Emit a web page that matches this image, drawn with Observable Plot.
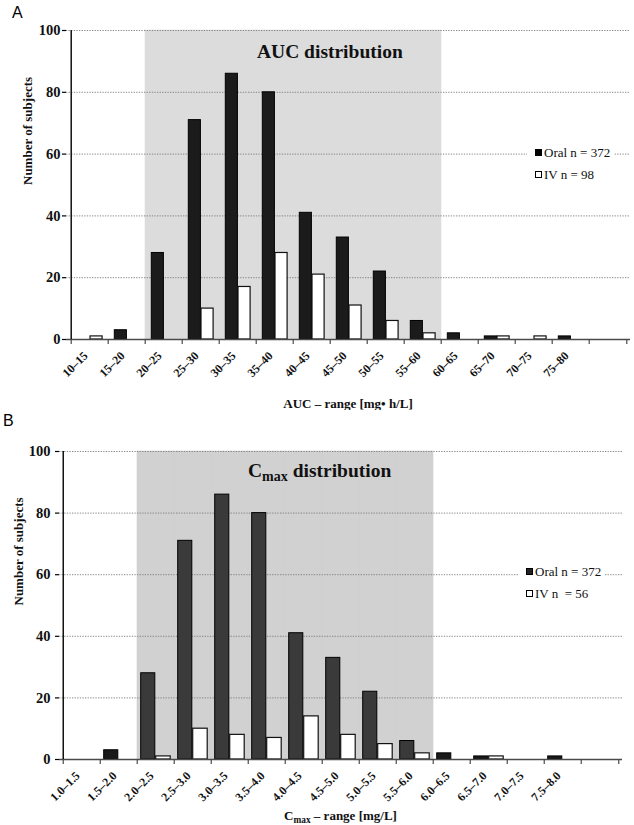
<!DOCTYPE html>
<html><head><meta charset="utf-8">
<script src="https://cdn.jsdelivr.net/npm/d3@7"></script>
<script src="https://cdn.jsdelivr.net/npm/@observablehq/plot@0.6"></script>
<style>
body{margin:0;background:#fff;}
.panel{position:relative;width:634px;overflow:hidden;}
.plbl{position:absolute;font-family:"Liberation Sans",Arial,sans-serif;font-size:16px;line-height:1;}
.title{position:absolute;font-family:"Liberation Serif","Times New Roman",serif;font-weight:bold;font-size:19.5px;white-space:nowrap;line-height:1;color:#111;}
.xt{position:absolute;font-family:"Liberation Serif","Times New Roman",serif;font-weight:bold;font-size:13px;white-space:nowrap;transform:translateX(-50%);line-height:1;color:#111;}
.sub{font-size:0.72em;position:relative;top:0.3em;}
.legend{position:absolute;background:#fff;font-family:"Liberation Serif","Times New Roman",serif;font-size:13px;line-height:22px;padding:0 4px 0 8px;white-space:pre;color:#111;}
.sw{display:inline-block;width:5px;height:5px;border:1px solid #000;margin-right:2px;vertical-align:1px;}
</style></head>
<body>
<div id="A" class="panel"></div>
<div id="B" class="panel"></div>
<script>
// ---- data ----
const aucBins = ["10–15","15–20","20–25","25–30","30–35","35–40","40–45","45–50","50–55","55–60","60–65","65–70","70–75","75–80"];
const aucOral = [0,3,28,71,86,80,41,33,22,6,2,1,0,1];
const aucIV   = [1,0,0,10,17,28,21,11,6,2,0,1,1,0];
const aucShaded = ["20–25","25–30","30–35","35–40","40–45","45–50","50–55","55–60"];

const cmaxBins = ["1.0–1.5","1.5–2.0","2.0–2.5","2.5–3.0","3.0–3.5","3.5–4.0","4.0–4.5","4.5–5.0","5.0–5.5","5.5–6.0","6.0–6.5","6.5–7.0","7.0–7.5","7.5–8.0"];
const cmaxOral = [0,3,28,71,86,80,41,33,22,6,2,1,0,1];
const cmaxIV   = [0,0,1,10,8,7,14,8,5,2,0,1,0,0];
const cmaxShaded = ["2.0–2.5","2.5–3.0","3.0–3.5","3.5–4.0","4.0–4.5","4.5–5.0","5.0–5.5","5.5–6.0"];

const yTicks = [0,20,40,60,80,100];
const gridTicks = [20,40,60,80,100];
const yTitle = "Number of subjects";
const FONT = "Liberation Serif, Times New Roman, serif";

function panel(cfg) {
  const W = 634;
  const domain = cfg.bins.concat([" "]);
  const plotW = W - cfg.ml - cfg.mr;
  const bw = plotW / domain.length;
  const plotH = cfg.h - cfg.mt - cfg.mb;
  const inShade = new Set(cfg.shaded);
  const rows = cfg.bins.map((b, i) => ({bin: b, oral: cfg.oral[i], iv: cfg.iv[i]}));
  return Plot.plot({
    width: W, height: cfg.h,
    marginLeft: cfg.ml, marginRight: cfg.mr, marginTop: cfg.mt, marginBottom: cfg.mb,
    style: {fontFamily: FONT, background: "#fff"},
    x: {type: "band", domain, padding: 0, axis: null},
    y: {domain: [0, 100], axis: null},
    marks: [
      Plot.barY(cfg.shaded, {x: d => d, y: 100, fill: cfg.shade, stroke: cfg.shade, strokeWidth: 0.6}),
      Plot.gridY(gridTicks, {stroke: "#7a7a7a", strokeOpacity: 1, strokeWidth: 0.9, strokeDasharray: "1.3,1.3"}),
      Plot.barY(rows.filter(d => d.oral > 0), {x: "bin", y: "oral", fill: d => inShade.has(d.bin) ? cfg.oralFill : cfg.oralOut, stroke: "#000", strokeWidth: 1, insetLeft: cfg.oralIn[0], insetRight: cfg.oralIn[1]}),
      Plot.barY(rows.filter(d => d.iv > 0), {x: "bin", y: "iv", fill: "#fff", stroke: "#111", strokeWidth: 1.2, insetLeft: cfg.ivIn[0], insetRight: cfg.ivIn[1]}),
      Plot.ruleY([0], {stroke: "#4a4a4a", strokeWidth: 1.5}),
      Plot.tickX([domain[0]], {x: d => d, dx: -bw / 2, stroke: "#000", strokeWidth: 1.4}),
      Plot.tickX(domain, {x: d => d, dx: -bw / 2, insetTop: plotH, insetBottom: -5, stroke: "#4a4a4a", strokeWidth: 1.2}),
      Plot.tickX([domain[domain.length - 1]], {x: d => d, dx: bw / 2, insetTop: plotH, insetBottom: -5, stroke: "#4a4a4a", strokeWidth: 1.2}),
      Plot.text(cfg.bins, {x: d => d, frameAnchor: "bottom", rotate: -45, textAnchor: "end", dx: -1.5, dy: 17, fontWeight: "bold", fontSize: 12, fill: "#111"}),
      Plot.tickY(yTicks, {y: d => d, insetLeft: -4, insetRight: plotW, stroke: "#000", strokeWidth: 1.2}),
      Plot.text(yTicks, {y: d => d, frameAnchor: "left", textAnchor: "end", dx: -(4 + cfg.tp), fontSize: 14.5, fontWeight: "bold", fill: "#111"}),
      Plot.text([yTitle], {frameAnchor: "left", rotate: -90, dx: cfg.ytDx, fontWeight: "bold", fontSize: 13, fill: "#111"})
    ]
  });
}

function legend(n1, n2, oralFill) {
  return `<div><span class="sw" style="background:${oralFill}"></span>Oral n = ${n1}</div>` +
         `<div><span class="sw" style="background:#fff"></span>IV n${n2}</div>`;
}

// Panel A
const A = document.getElementById("A");
A.style.height = "410px";
A.appendChild(panel({bins: aucBins, oral: aucOral, iv: aucIV, shaded: aucShaded, h: 410, ml: 66, mr: 4, mt: 30, mb: 71,
  shade: "#dcdcdc", oralFill: "#1b1b1b", oralOut: "#1b1b1b", oralIn: [6.3, 18.6], ivIn: [19, 5.9], tp: 2, ytDx: -39}));
A.insertAdjacentHTML("beforeend",
  `<div class="plbl" style="left:12px;top:5px">A</div>` +
  `<div class="title" style="left:257px;top:41.5px">AUC distribution</div>` +
  `<div class="xt" style="left:348px;top:397px">AUC – range [mg• h/L]</div>` +
  `<div class="legend" style="left:527px;top:142px">${legend(372, " = 98", "#000")}</div>`);

// Panel B
const B = document.getElementById("B");
B.style.height = "415px";
B.appendChild(panel({bins: cmaxBins, oral: cmaxOral, iv: cmaxIV, shaded: cmaxShaded, h: 415, ml: 59, mr: 12, mt: 41, mb: 66,
  shade: "#d1d1d1", oralFill: "#3a3a3a", oralOut: "#1a1a1a", oralIn: [3.7, 19.2], ivIn: [18.7, 3.8], tp: 5, ytDx: -41}));
B.insertAdjacentHTML("beforeend",
  `<div class="plbl" style="left:3px;top:3px">B</div>` +
  `<div class="title" style="left:248px;top:50.5px">C<span class="sub">max</span> distribution</div>` +
  `<div class="xt" style="left:340.5px;top:399px">C<span class="sub">max</span> – range [mg/L]</div>` +
  `<div class="legend" style="left:518px;top:151px">${legend(372, "  = 56", "#222")}</div>`);
</script>
</body></html>
